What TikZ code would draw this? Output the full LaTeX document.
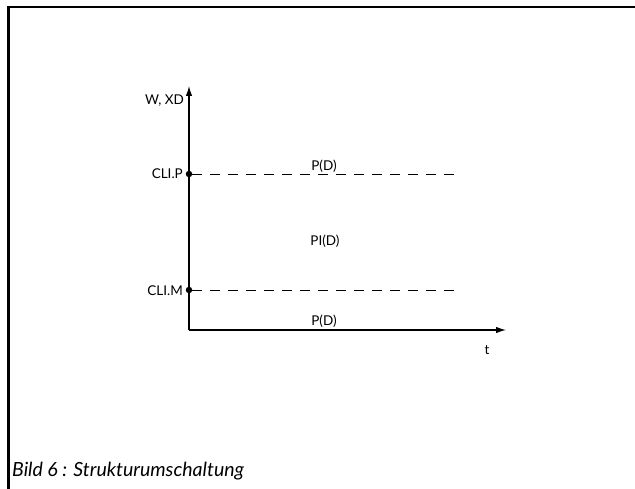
\documentclass[tikz,border=0pt]{standalone}
\usepackage{fontspec}
\setmainfont{Lato}
\usetikzlibrary{arrows.meta}
\begin{document}
\begin{tikzpicture}[x=1pt,y=-1pt,
  lbl/.style={font=\fontsize{13.5}{16}\selectfont, inner sep=0pt},
  axis/.style={line width=1.2pt, -{Latex[length=10pt,width=6.5pt]}},
  dashline/.style={line width=0.9pt, dash pattern=on 10pt off 8pt},
  dotp/.style={circle, fill=black, inner sep=0pt, minimum size=6.5pt}]
\useasboundingbox (0,0) rectangle (635,489);
\draw[line width=2.2pt] (8.5,489) -- (8.5,7) -- (635,7);
\coordinate (O) at (189,330);
\coordinate (ytip) at (189,86);
\coordinate (xtip) at (506,330);
\draw[axis] (O) -- (ytip);
\draw[axis] (O) -- (xtip);
\node[dotp] (p) at (189,174) {};
\node[dotp] (m) at (189,290) {};
\coordinate (pe) at (457,174);
\coordinate (me) at (457,290);
\draw[dashline] (p) -- (pe);
\draw[dashline] (m) -- (me);
\node[lbl, anchor=east] (wxd) at (184,101) {W, XD};
\node[lbl, anchor=east] (clip) at (183,174) {CLI.P};
\node[lbl, anchor=east] (clim) at (183,291) {CLI.M};
\node[lbl] (pd1) at (324,166) {P(D)};
\node[lbl] (pid) at (325,241) {PI(D)};
\node[lbl] (pd2) at (324,321) {P(D)};
\node[lbl] (t) at (487,350) {t};
\node[anchor=west, inner sep=0pt, font=\itshape\fontsize{19.5}{23}\selectfont] (cap) at (12,471) {Bild 6 : Strukturumschaltung};
\end{tikzpicture}
\end{document}
